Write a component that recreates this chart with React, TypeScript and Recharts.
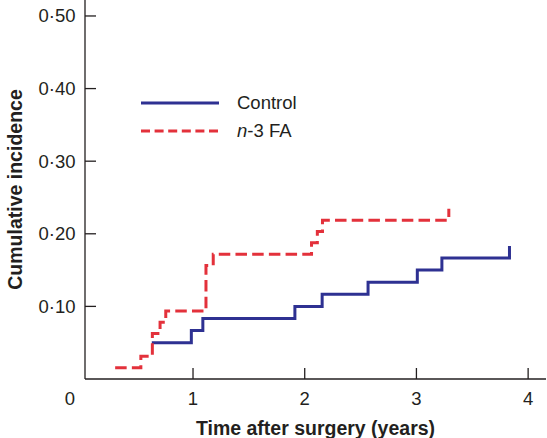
import React from "react";
import { LineChart, Line, XAxis, YAxis, Label } from "recharts";

// --- Data ---

const controlTimes = [0.631, 0.985, 1.088, 1.912, 2.156, 2.567, 3.008, 3.228, 3.833];
const controlIncidence = [0.05, 0.0667, 0.0833, 0.1, 0.1167, 0.1333, 0.15, 0.1667, 0.1833];

const n3Times = [0.303, 0.533, 0.636, 0.705, 0.756, 1.116, 1.181, 2.061, 2.113, 2.159, 3.29];
const n3Incidence = [0.0156, 0.0313, 0.0625, 0.0781, 0.0938, 0.1563, 0.1719, 0.1875, 0.2031, 0.2188, 0.2344];

const xTicks = [0.033, 1, 2, 3, 4];
const yTicks = [0.1, 0.2, 0.3, 0.4, 0.5];

const controlData = controlTimes.map((x, i) => ({ x, y: controlIncidence[i] }));
const n3Data = n3Times.map((x, i) => ({ x, y: n3Incidence[i] }));

const FONT = '"Liberation Sans", Arial, Helvetica, sans-serif';
const INK = "#231f20";
const BLUE = "#2e3192";
const RED = "#e3313b";

// --- Ticks (drawn inward, like the journal figure) ---

const XTick = ({ x, y, payload }: any) => {
  const isOrigin = payload.value < 0.5;
  return (
    <g>
      {!isOrigin && (
        <line x1={x} x2={x} y1={y - 11} y2={y} stroke={INK} strokeWidth={1.3} />
      )}
      <text
        x={isOrigin ? x - 15 : x}
        y={y + 19}
        textAnchor="middle"
        dominantBaseline="central"
        fill={INK}
        fontSize={18.5}
        fontFamily={FONT}
      >
        {isOrigin ? "0" : String(payload.value)}
      </text>
    </g>
  );
};

const YTick = ({ x, y, payload }: any) => (
  <g>
    <line x1={x} x2={x + 11} y1={y} y2={y} stroke={INK} strokeWidth={1.3} />
    <text
      x={x - 9.5}
      y={y}
      textAnchor="end"
      dominantBaseline="central"
      fill={INK}
      fontSize={18.5}
      fontFamily={FONT}
    >
      {payload.value.toFixed(2).replace(".", "\u00b7")}
    </text>
  </g>
);

// --- Legend overlay ---

const LegendBox = () => (
  <div
    style={{
      position: "absolute",
      left: 140,
      top: 89,
      fontFamily: FONT,
      fontSize: 18.5,
      color: INK,
      lineHeight: "28px",
    }}
  >
    <div style={{ display: "flex", alignItems: "center" }}>
      <svg width={80} height={28}>
        <line x1={1} x2={79} y1={14} y2={14} stroke={BLUE} strokeWidth={3} />
      </svg>
      <span style={{ marginLeft: 17 }}>Control</span>
    </div>
    <div style={{ display: "flex", alignItems: "center" }}>
      <svg width={80} height={28}>
        <line
          x1={1}
          x2={79}
          y1={14}
          y2={14}
          stroke={RED}
          strokeWidth={3}
          strokeDasharray="9 4.6"
        />
      </svg>
      <span style={{ marginLeft: 17 }}>
        <i>n</i>-3 FA
      </span>
    </div>
  </div>
);

export default function App() {
  return (
    <div style={{ position: "absolute", left: 0, top: 0, width: 547, height: 438 }}>
      <LineChart
        width={547}
        height={438}
        margin={{ top: 0, right: 1, bottom: 0, left: 0 }}
      >
        <XAxis
          type="number"
          dataKey="x"
          domain={[0.033, 4.16]}
          ticks={xTicks}
          interval={0}
          height={59}
          tickSize={0}
          tickMargin={0}
          tickLine={false}
          tick={<XTick />}
          axisLine={{ stroke: INK, strokeWidth: 1.3 }}
        >
          <Label
            content={({ viewBox }: any) => (
              <text
                x={viewBox.x + viewBox.width / 2}
                y={viewBox.y + 49}
                textAnchor="middle"
                dominantBaseline="central"
                fill={INK}
                fontSize={19.5}
                fontWeight="bold"
                fontFamily={FONT}
              >
                Time after surgery (years)
              </text>
            )}
          />
        </XAxis>
        <YAxis
          type="number"
          domain={[0, 0.522]}
          ticks={yTicks}
          interval={0}
          width={85}
          tickSize={0}
          tickMargin={0}
          tickLine={false}
          tick={<YTick />}
          axisLine={{ stroke: INK, strokeWidth: 1.3 }}
        >
          <Label
            content={({ viewBox }: any) => {
              const cx = viewBox.x + 15;
              const cy = viewBox.y + viewBox.height / 2;
              return (
                <text
                  x={cx}
                  y={cy}
                  transform={`rotate(-90 ${cx} ${cy})`}
                  textAnchor="middle"
                  dominantBaseline="central"
                  fill={INK}
                  fontSize={19.5}
                  fontWeight="bold"
                  fontFamily={FONT}
                >
                  Cumulative incidence
                </text>
              );
            }}
          />
        </YAxis>
        <Line
          data={controlData}
          dataKey="y"
          type="stepAfter"
          stroke={BLUE}
          strokeWidth={3}
          dot={false}
          isAnimationActive={false}
        />
        <Line
          data={n3Data}
          dataKey="y"
          type="stepAfter"
          stroke={RED}
          strokeWidth={3}
          strokeDasharray="11.5 5.2"
          dot={false}
          isAnimationActive={false}
        />
      </LineChart>
      <LegendBox />
    </div>
  );
}
